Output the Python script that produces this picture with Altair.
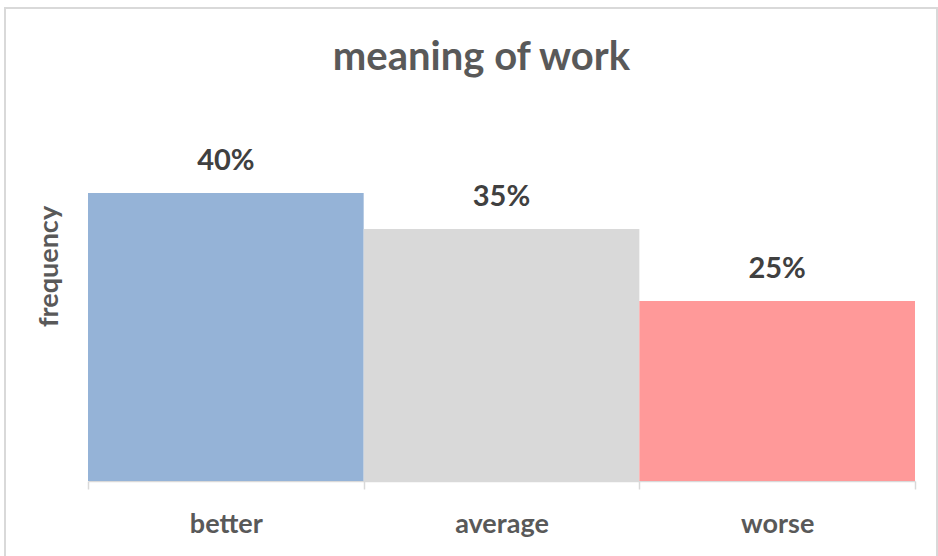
import altair as alt
import pandas as pd

categories = ["better", "average", "worse"]
values = [0.40, 0.35, 0.25]
colors = ["#95B3D7", "#D9D9D9", "#FF9999"]

df = pd.DataFrame({"category": categories, "value": values})

FONT = "Lato"

x = alt.X("category:N", sort=categories, title=None,
          scale=alt.Scale(paddingInner=0, paddingOuter=0),
          axis=alt.Axis(labelAngle=0, labelFont=FONT, labelFontSize=27, labelFontWeight="bold",
                        labelColor="#595959", labelBaseline="alphabetic", labelPadding=43,
                        tickBand="extent", tickSize=8, tickColor="#D9D9D9",
                        domainColor="#D9D9D9", domainWidth=1.5, tickWidth=1.5))
y = alt.Y("value:Q", scale=alt.Scale(domain=[0, 0.5]), title="frequency",
          axis=alt.Axis(labels=False, ticks=False, domain=False, grid=False,
                        titleFont=FONT, titleFontSize=27, titleFontWeight="bold",
                        titleColor="#595959", titlePadding=25, titleY=145))

bars = alt.Chart(df).mark_bar().encode(
    x=x, y=y,
    color=alt.Color("category:N", scale=alt.Scale(domain=categories, range=colors), legend=None),
)

text = alt.Chart(df).mark_text(baseline="alphabetic", dy=-23, font=FONT, fontSize=29,
                               fontWeight="bold", color="#404040").encode(
    x=alt.X("category:N", sort=categories),
    y="value:Q",
    text=alt.Text("value:Q", format=".0%"),
)

border = alt.Chart(df).mark_rect(fill=None, stroke="#D9D9D9", strokeWidth=2).encode(
    x=alt.value(-83), x2=alt.value(849), y=alt.value(-113), y2=alt.value(440)
)

chart = alt.layer(border, bars, text).properties(
    width=827, height=360,
    title=alt.TitleParams("meaning of work", font=FONT, fontSize=40, fontWeight="bold",
                          color="#595959", offset=-103, anchor="middle", frame="group",
                          baseline="alphabetic", dx=-20),
    autosize=alt.AutoSizeParams(type="none"),
    padding={"left": 88, "top": 121, "right": 23, "bottom": 75},
).configure(background="white").configure_view(stroke=None)

chart.save("out.html", embed_options={"renderer": "svg", "actions": False})
